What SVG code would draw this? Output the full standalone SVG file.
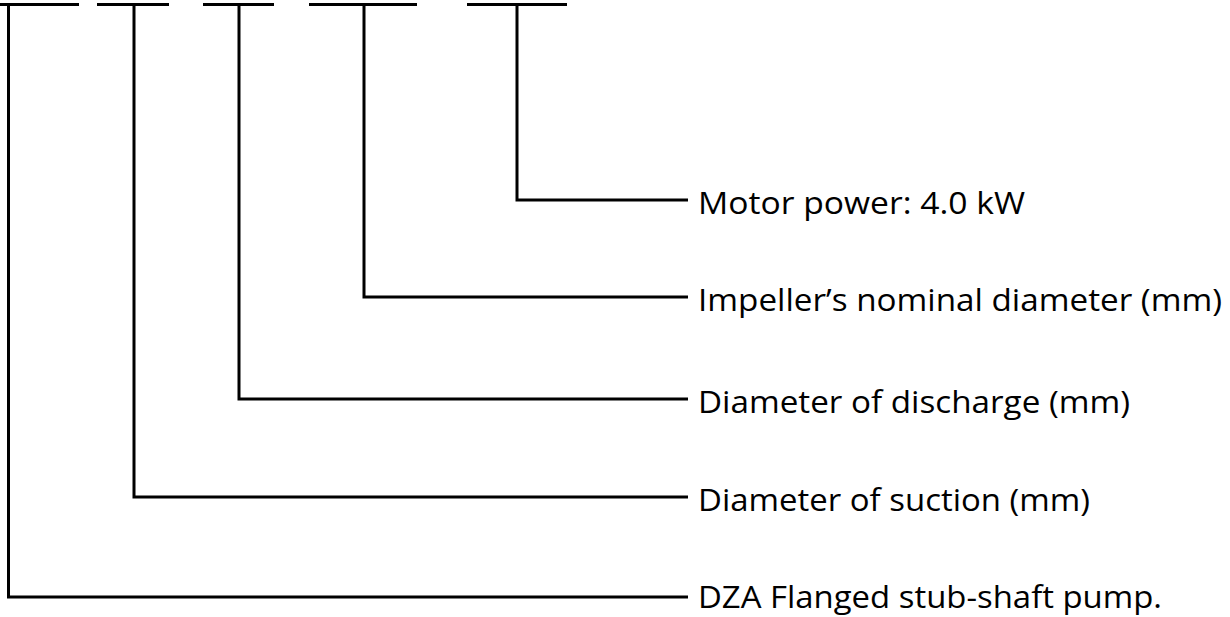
<svg xmlns="http://www.w3.org/2000/svg" width="1230" height="617" viewBox="0 0 1230 617">
<style>
.ln{fill:none;stroke:#000;stroke-width:3;stroke-linecap:butt;stroke-linejoin:miter}
.lb{font-family:"Open Sans","Noto Sans","Liberation Sans",sans-serif;font-size:31px;fill:#000}
</style>
<rect width="1230" height="617" fill="#fff"/>
<g id="connectors">
<line class="ln" x1="0" y1="4.5" x2="79" y2="4.5"/>
<line class="ln" x1="97" y1="4.5" x2="169" y2="4.5"/>
<line class="ln" x1="203" y1="4.5" x2="274" y2="4.5"/>
<line class="ln" x1="309" y1="4.5" x2="417" y2="4.5"/>
<line class="ln" x1="467" y1="4.5" x2="567" y2="4.5"/>
<polyline class="ln" points="8.5,4.5 8.5,597 688,597"/>
<polyline class="ln" points="134,4.5 134,497 688,497"/>
<polyline class="ln" points="239,4.5 239,399 688,399"/>
<polyline class="ln" points="364,4.5 364,297 688,297"/>
<polyline class="ln" points="517,4.5 517,200 688,200"/>
</g>
<g id="motor"><text class="lb" x="698" y="214" textLength="327" lengthAdjust="spacingAndGlyphs">Motor power: 4.0 kW</text></g>
<g id="impeller"><text class="lb" x="698" y="311" textLength="524" lengthAdjust="spacingAndGlyphs">Impeller’s nominal diameter (mm)</text></g>
<g id="discharge"><text class="lb" x="698" y="413" textLength="432" lengthAdjust="spacingAndGlyphs">Diameter of discharge (mm)</text></g>
<g id="suction"><text class="lb" x="698" y="511" textLength="392" lengthAdjust="spacingAndGlyphs">Diameter of suction (mm)</text></g>
<g id="dza"><text class="lb" x="698" y="608" textLength="464" lengthAdjust="spacingAndGlyphs">DZA Flanged stub-shaft pump.</text></g>
</svg>
